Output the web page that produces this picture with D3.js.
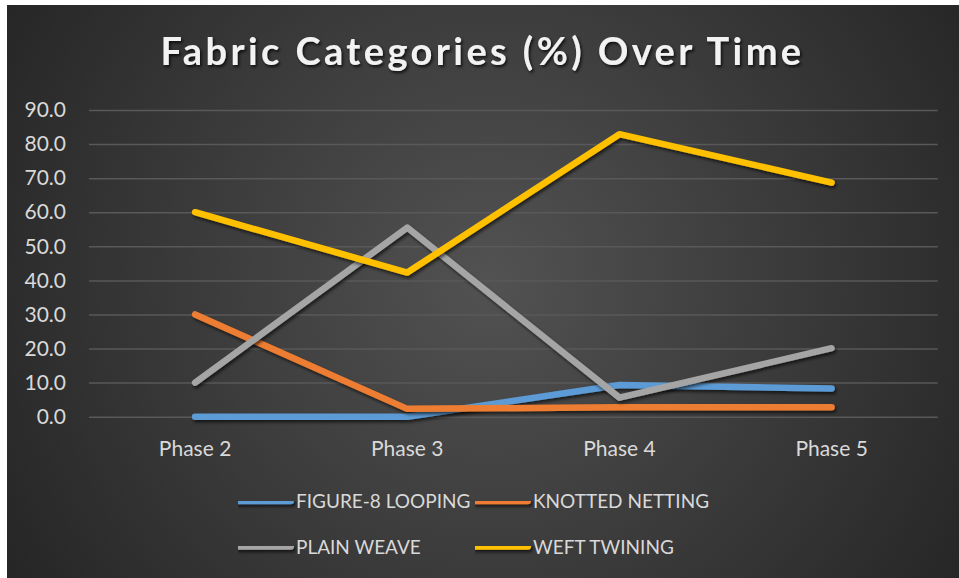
<!DOCTYPE html>
<html>
<head>
<meta charset="utf-8">
<script src="https://cdn.jsdelivr.net/npm/d3@7"></script>
<style>
  html, body { margin: 0; padding: 0; background: #ffffff; }
  svg { display: block; }
</style>
</head>
<body>
<svg id="chart" width="959" height="578"></svg>
<script>
// Phases along the x axis
const phases = ["Phase 2", "Phase 3", "Phase 4", "Phase 5"];

// Share of each fabric category (%) per phase
const figure8Looping = [0.0, 0.0, 9.3, 8.3];
const knottedNetting = [30.0, 2.3, 2.8, 2.8];
const plainWeave     = [10.0, 55.5, 5.6, 20.1];
const weftTwining    = [60.0, 42.3, 82.9, 68.7];

const seriesNames = ["FIGURE-8 LOOPING", "KNOTTED NETTING", "PLAIN WEAVE", "WEFT TWINING"];
const seriesColors = ["#5B9BD5", "#ED7D31", "#A5A5A5", "#FFC000"];

const yTicks = [0, 10, 20, 30, 40, 50, 60, 70, 80, 90];

const series = [figure8Looping, knottedNetting, plainWeave, weftTwining].map((values, i) => ({
  name: seriesNames[i],
  color: seriesColors[i],
  values: values
}));

const svg = d3.select("#chart");
const defs = svg.append("defs");

// Radial background shading
const grad = defs.append("radialGradient")
  .attr("id", "bg")
  .attr("gradientUnits", "userSpaceOnUse")
  .attr("cx", 490).attr("cy", 280).attr("r", 560);
grad.append("stop").attr("offset", "0%").attr("stop-color", "#525252");
grad.append("stop").attr("offset", "100%").attr("stop-color", "#262626");

// Soft shadow under lines and title
const sh = defs.append("filter").attr("id", "shadow")
  .attr("filterUnits", "userSpaceOnUse")
  .attr("x", 0).attr("y", 0).attr("width", 959).attr("height", 578);
sh.append("feDropShadow")
  .attr("dx", 1.5).attr("dy", 2.5).attr("stdDeviation", 1.8)
  .attr("flood-color", "#000").attr("flood-opacity", 0.6);

const tsh = defs.append("filter").attr("id", "tshadow")
  .attr("x", "-5%").attr("y", "-20%").attr("width", "110%").attr("height", "150%");
tsh.append("feDropShadow")
  .attr("dx", 1.5).attr("dy", 2).attr("stdDeviation", 1.5)
  .attr("flood-color", "#000").attr("flood-opacity", 0.75);

// Chart frame
svg.append("rect")
  .attr("x", 7).attr("y", 5).attr("width", 952).attr("height", 573)
  .attr("fill", "url(#bg)");

// Scales
const plot = { left: 89, right: 937.7, top: 110, bottom: 416.7 };
const x = d3.scaleBand().domain(phases).range([plot.left, plot.right]).padding(0);
const y = d3.scaleLinear().domain([0, 90]).range([plot.bottom, plot.top]);

const fontFamily = "Lato, 'Open Sans', sans-serif";

// Horizontal gridlines + y labels
const yAxis = d3.axisLeft(y)
  .tickValues(yTicks)
  .tickFormat(d3.format(".1f"))
  .tickSize(-(plot.right - plot.left))
  .tickPadding(23);

const gy = svg.append("g")
  .attr("transform", `translate(${plot.left},0)`)
  .call(yAxis);
gy.select(".domain").remove();
gy.selectAll(".tick line")
  .attr("stroke", "#595959")
  .attr("stroke-width", 1.5);
gy.selectAll(".tick text")
  .attr("fill", "#d9d9d9")
  .style("font-family", fontFamily)
  .style("font-size", "21px");

// Category labels
const xAxis = d3.axisBottom(x).tickSize(0).tickPadding(24);
const gx = svg.append("g")
  .attr("transform", `translate(0,${plot.bottom})`)
  .call(xAxis);
gx.select(".domain").remove();
gx.selectAll(".tick text")
  .attr("fill", "#d9d9d9")
  .style("font-family", fontFamily)
  .style("font-size", "21px");

// Lines
const line = d3.line()
  .x((d, i) => x(phases[i]) + x.bandwidth() / 2)
  .y(d => y(d));

svg.append("g")
  .selectAll("path")
  .data(series)
  .join("path")
  .attr("d", d => line(d.values))
  .attr("fill", "none")
  .attr("stroke", d => d.color)
  .attr("stroke-width", 6.5)
  .attr("stroke-linecap", "round")
  .attr("stroke-linejoin", "round")
  .attr("filter", "url(#shadow)");

// Title
svg.append("text")
  .attr("x", 482.5)
  .attr("y", 65)
  .attr("text-anchor", "middle")
  .attr("fill", "#f2f2f2")
  .attr("filter", "url(#tshadow)")
  .style("font-family", fontFamily)
  .style("font-weight", "bold")
  .style("font-size", "38px")
  .style("letter-spacing", "3.4px")
  .text("Fabric Categories (%) Over Time");

// Legend (two columns, two rows)
const legendPos = [
  { lx: 238, ly: 501 },
  { lx: 475, ly: 501 },
  { lx: 238, ly: 546.5 },
  { lx: 475, ly: 546.5 }
];
const legend = svg.append("g")
  .selectAll("g")
  .data(series)
  .join("g")
  .attr("transform", (d, i) => `translate(${legendPos[i].lx},${legendPos[i].ly})`);
legend.append("rect")
  .attr("x", -3).attr("y", -3.25)
  .attr("width", 59).attr("height", 6.5)
  .attr("rx", 3.25)
  .attr("fill", d => d.color)
  .attr("filter", "url(#shadow)");
legend.append("text")
  .attr("x", 58)
  .attr("y", 7)
  .attr("fill", "#d9d9d9")
  .style("font-family", fontFamily)
  .style("font-size", "19px")
  .text(d => d.name);
</script>
</body>
</html>
